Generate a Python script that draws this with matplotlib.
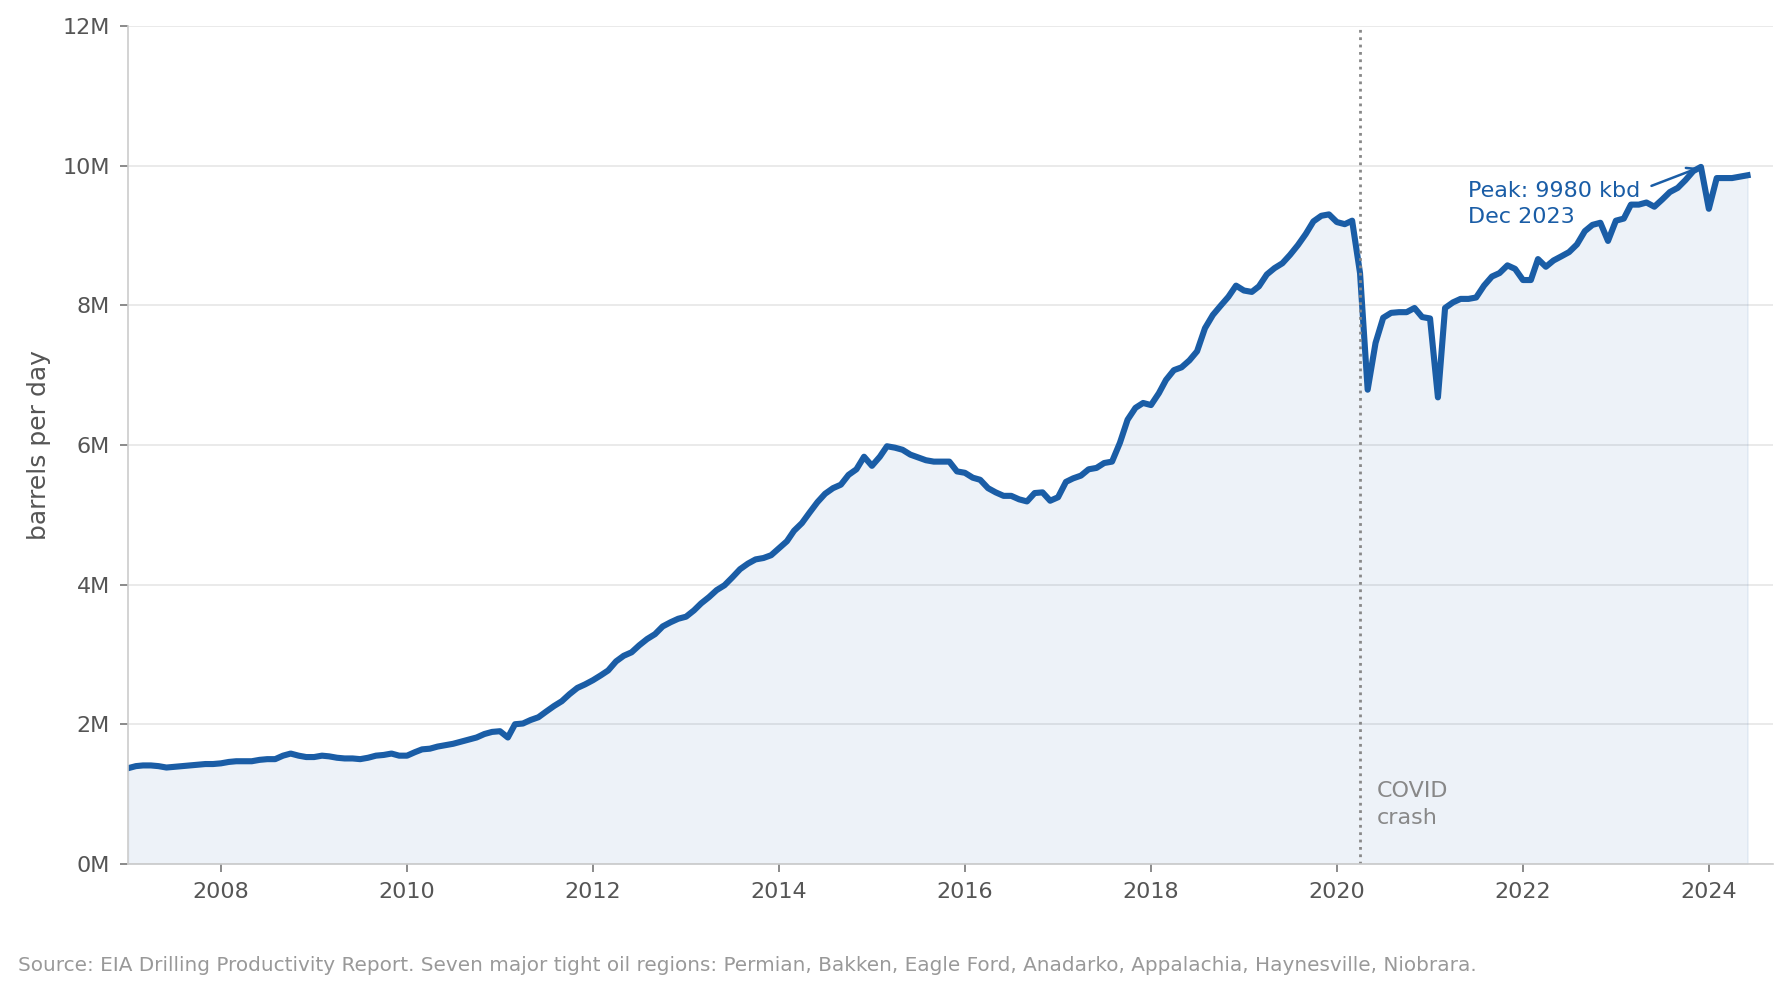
import numpy as np
import pandas as pd
import matplotlib
matplotlib.use("Agg")
from matplotlib import pyplot as plt
import matplotlib.dates as mdates
from matplotlib.ticker import FuncFormatter, MultipleLocator

# monthly tight oil production, thousand barrels per day (kbd)
start_month = "2007-01-01"
production_kbd = [
    1370, 1400, 1410, 1410, 1400, 1380, 1390, 1400, 1410, 1420, 1430, 1430,  # 2007
    1440, 1460, 1470, 1470, 1470, 1490, 1500, 1500, 1550, 1580, 1550, 1530,  # 2008
    1530, 1550, 1540, 1520, 1510, 1510, 1500, 1520, 1550, 1560, 1580, 1550,  # 2009
    1550, 1600, 1640, 1650, 1680, 1700, 1720, 1750, 1780, 1810, 1860, 1890,  # 2010
    1900, 1810, 2000, 2010, 2060, 2100, 2180, 2260, 2330, 2430, 2520, 2570,  # 2011
    2630, 2700, 2770, 2900, 2980, 3030, 3130, 3220, 3290, 3400, 3460, 3510,  # 2012
    3540, 3630, 3730, 3820, 3920, 3990, 4100, 4220, 4300, 4360, 4380, 4420,  # 2013
    4520, 4620, 4770, 4880, 5030, 5180, 5300, 5380, 5430, 5570, 5650, 5830,  # 2014
    5700, 5830, 5980, 5960, 5930, 5860, 5820, 5780, 5760, 5760, 5760, 5620,  # 2015
    5600, 5530, 5500, 5380, 5320, 5270, 5270, 5220, 5190, 5310, 5320, 5200,  # 2016
    5250, 5470, 5520, 5560, 5650, 5670, 5740, 5760, 6030, 6360, 6530, 6600,  # 2017
    6570, 6740, 6930, 7070, 7110, 7210, 7340, 7670, 7860, 7990, 8120, 8280,  # 2018
    8210, 8190, 8270, 8440, 8530, 8600, 8720, 8860, 9020, 9200, 9280, 9300,  # 2019
    9190, 9160, 9210, 8460, 6790, 7460, 7820, 7890, 7900, 7900, 7960, 7830,  # 2020
    7810, 6680, 7960, 8040, 8090, 8090, 8110, 8280, 8410, 8460, 8570, 8520,  # 2021
    8360, 8360, 8660, 8550, 8640, 8700, 8760, 8870, 9060, 9150, 9180, 8920,  # 2022
    9210, 9240, 9440, 9440, 9470, 9410, 9510, 9620, 9680, 9790, 9920, 9980,  # 2023
    9380, 9820, 9820, 9820, 9840, 9860,                                      # 2024
]
covid_month = "2020-04-01"
source_note = ("Source: EIA Drilling Productivity Report. Seven major tight oil regions: "
               "Permian, Bakken, Eagle Ford, Anadarko, Appalachia, Haynesville, Niobrara.")

blue = "#1a5da6"
months = pd.date_range(start_month, periods=len(production_kbd), freq="MS")
bpd = np.array(production_kbd) * 1000.0

fig = plt.figure(figsize=(8.95, 4.965), dpi=200)
ax = fig.add_axes([0.0715, 0.13, 0.919, 0.844])

ax.fill_between(months, bpd, 0, color=blue, alpha=0.08, lw=0.6)
ax.plot(months, bpd, color=blue, lw=2.2, solid_joinstyle="round")

ax.axvline(pd.Timestamp(covid_month), color="#888888", ls=":", lw=1.0)
ax.text(pd.Timestamp("2020-06-05"), 0.85e6, "COVID\ncrash", color="#888888",
        fontsize=8, ha="left", va="center", linespacing=1.4)

ipk = int(np.argmax(bpd))
ax.annotate("Peak: %d kbd\n%s" % (production_kbd[ipk], months[ipk].strftime("%b %Y")),
            xy=(months[ipk], bpd[ipk]), xytext=(pd.Timestamp("2021-06-01"), 9.45e6),
            color=blue, fontsize=8, ha="left", va="center", linespacing=1.4,
            arrowprops=dict(arrowstyle="->", color=blue, lw=0.9, relpos=(1.0, 0.8),
                            shrinkA=2, shrinkB=1))

ax.set_ylim(0, 12e6)
ax.set_xlim(months[0], months[-1] + pd.Timedelta(days=100))
ax.yaxis.set_major_locator(MultipleLocator(2e6))
ax.yaxis.set_major_formatter(FuncFormatter(lambda v, p: "%dM" % round(v / 1e6)))
ax.xaxis.set_major_locator(mdates.YearLocator(2))
ax.xaxis.set_major_formatter(mdates.DateFormatter("%Y"))

ax.grid(axis="y", color="#e6e6e6", lw=0.6)
ax.set_axisbelow(True)
for s in ["top", "right"]:
    ax.spines[s].set_visible(False)
for s in ["left", "bottom"]:
    ax.spines[s].set_color("#cccccc")
    ax.spines[s].set_linewidth(0.6)
ax.tick_params(colors="#777777", labelcolor="#555555", labelsize=8, length=3, width=0.6)
ax.set_ylabel("barrels per day", fontsize=9, color="#555555")

fig.text(0.01, 0.028, source_note, fontsize=7.2, color="#999999", ha="left", va="center")

fig.savefig("out.png", dpi=200)
